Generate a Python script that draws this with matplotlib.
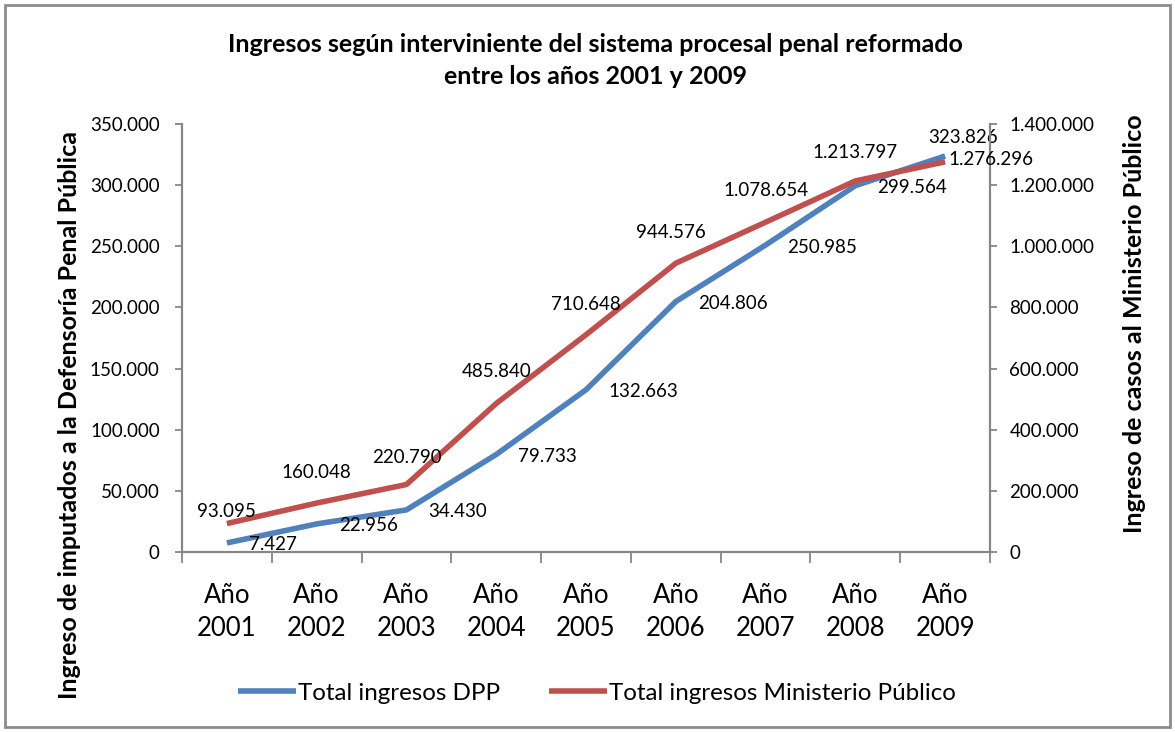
import matplotlib
matplotlib.use("Agg")
import matplotlib.pyplot as plt
from matplotlib.patches import Rectangle
from matplotlib.ticker import FuncFormatter, FixedLocator

plt.rcParams["font.family"] = ["Lato", "DejaVu Sans"]

years = ["2001", "2002", "2003", "2004", "2005", "2006", "2007", "2008", "2009"]
dpp = [7427, 22956, 34430, 79733, 132663, 204806, 250985, 299564, 323826]
mp = [93095, 160048, 220790, 485840, 710648, 944576, 1078654, 1213797, 1276296]

BLUE = "#4F81BD"
RED = "#C0504D"
GRAY = "#868686"


def miles(v, pos=None):
    return f"{int(v):,}".replace(",", ".")


# label offsets in pixels (dx, dy)
dpp_off = [(22, -2)] * 8 + [(18, 19)]
mp_off = [(0, 12), (0, 31), (0, 27), (0, 32), (0, 30), (-5, 31), (0, 32), (0, 28), (3, 2)]

fig = plt.figure(figsize=(11.75, 7.32), dpi=100)
fig.patches.append(Rectangle((5 / 1175, 5 / 732), 1165 / 1175, 722 / 732,
                             transform=fig.transFigure, fill=False,
                             edgecolor="#8c8c8c", linewidth=2))

ax = fig.add_axes([182 / 1175, 1 - 552 / 732, 808 / 1175, 428 / 732])
ax2 = ax.twinx()

x = list(range(len(years)))
ax.plot(x, dpp, color=BLUE, linewidth=4, solid_capstyle="butt", zorder=3,
        label="Total ingresos DPP")
ax2.plot(x, mp, color=RED, linewidth=4, solid_capstyle="butt", zorder=3,
         label="Total ingresos Ministerio Público")

ax.set_xlim(-0.5, len(years) - 0.5)
ax.set_ylim(0, 350000)
ax2.set_ylim(0, 1400000)
ax.set_yticks(range(0, 350001, 50000))
ax2.set_yticks(range(0, 1400001, 200000))
ax.yaxis.set_major_formatter(FuncFormatter(miles))
ax2.yaxis.set_major_formatter(FuncFormatter(miles))

ax.set_xticks(x)
ax.set_xticklabels(["Año\n" + y for y in years], fontsize=18.5, linespacing=1.42)
ax.xaxis.set_minor_locator(FixedLocator([i - 0.5 for i in range(len(years) + 1)]))
ax.tick_params(axis="x", which="major", length=0, pad=22)
ax.tick_params(axis="x", which="minor", length=8, color=GRAY, width=1.3)
ax.tick_params(axis="y", length=5, color=GRAY, width=1.3, labelsize=13.5, pad=11)
ax2.tick_params(axis="y", length=5, color=GRAY, width=1.3, labelsize=13.5, pad=9)

for a in (ax, ax2):
    a.spines["top"].set_visible(False)
    for s in ("left", "right", "bottom"):
        a.spines[s].set_color(GRAY)
        a.spines[s].set_linewidth(1.5)

fig.text(70 / 1175, 1 - 415 / 732, "Ingreso de imputados a la Defensoría Penal Pública",
         rotation=90, ha="center", va="center", fontsize=18, fontweight="bold")
fig.text(1135 / 1175, 1 - 324 / 732, "Ingreso de casos al Ministerio Público",
         rotation=90, ha="center", va="center", fontsize=18, fontweight="bold")

px = 0.72
for i, v in enumerate(dpp):
    dx, dy = dpp_off[i]
    ha = "center" if i == len(dpp) - 1 else "left"
    ax.annotate(miles(v), (i, v), xytext=(dx * px, dy * px), textcoords="offset points",
                ha=ha, va="center", fontsize=13.5, zorder=4)
for i, v in enumerate(mp):
    dx, dy = mp_off[i]
    ha = "left" if i == len(mp) - 1 else "center"
    ax2.annotate(miles(v), (i, v), xytext=(dx * px, dy * px), textcoords="offset points",
                 ha=ha, va="center", fontsize=13.5, zorder=4)

fig.text(595 / 1175, 1 - 45 / 732,
         "Ingresos según interviniente del sistema procesal penal reformado",
         ha="center", va="center", fontsize=18, fontweight="bold")
fig.text(595 / 1175, 1 - 77 / 732, "entre los años 2001 y 2009",
         ha="center", va="center", fontsize=18, fontweight="bold")

h1, l1 = ax.get_legend_handles_labels()
h2, l2 = ax2.get_legend_handles_labels()
fig.legend(h1 + h2, l1 + l2, loc="center", bbox_to_anchor=(597 / 1175, 1 - 693 / 732),
           ncol=2, frameon=False, fontsize=17.4, handlelength=2.4, handletextpad=0.1,
           columnspacing=2.0)

fig.savefig("out.png", dpi=100)
